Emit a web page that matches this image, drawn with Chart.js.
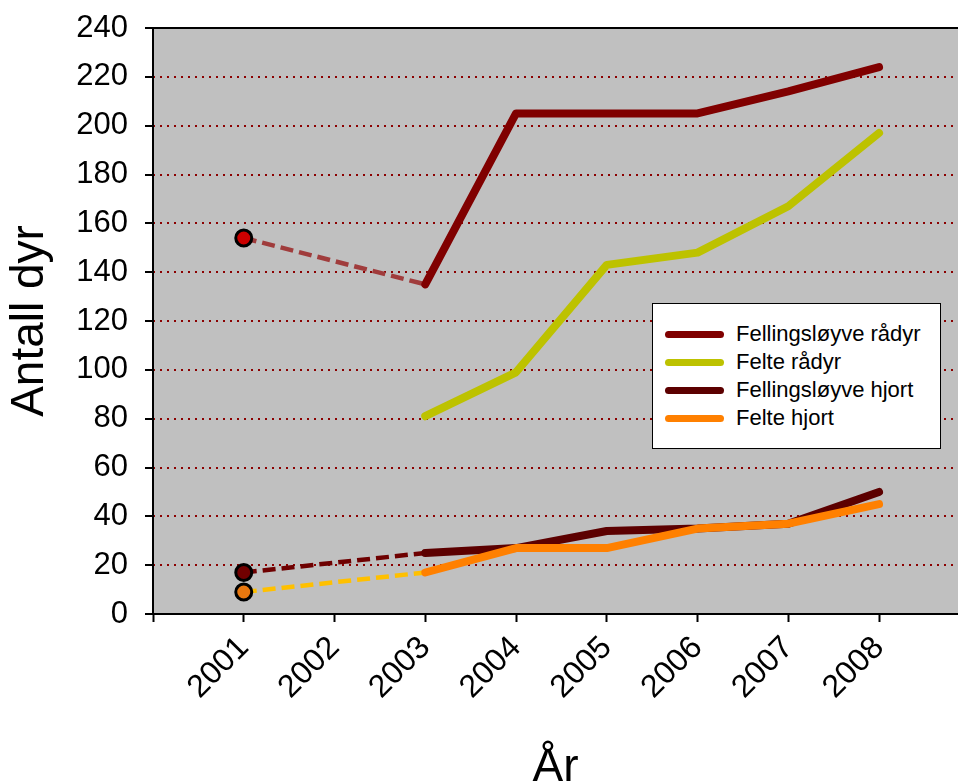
<!DOCTYPE html>
<html>
<head>
<meta charset="utf-8">
<script src="https://cdn.jsdelivr.net/npm/chart.js@4/dist/chart.umd.min.js"></script>
<style>
  html, body { margin: 0; padding: 0; background: #fff; overflow: hidden; }
  #wrap { position: relative; width: 958px; height: 810px; }
  #legend {
    position: absolute; left: 652px; top: 303px; width: 287px; height: 144px;
    background: #fff; border: 1px solid #000; font-family: "Liberation Sans", Arial, sans-serif;
    font-size: 22px; color: #000;
  }
  .row { position: absolute; left: 12px; height: 28px; display: flex; align-items: center; }
  .swatch { width: 59px; height: 7px; border-radius: 4px; margin-right: 12px; }
</style>
</head>
<body>
<div id="wrap">
  <canvas id="chart" width="958" height="810"></canvas>
  <div id="legend"></div>
</div>
<script>
const years = [2001, 2002, 2003, 2004, 2005, 2006, 2007, 2008];
const fellingRadyr = [154, null, 135, 205, 205, 205, 214, 224];
const felteRadyr = [null, null, 81, 99, 143, 148, 167, 197];
const fellingHjort = [17, null, 25, 27, 34, 35, 37, 50];
const felteHjort = [9, null, 17, 27, 27, 35, 37, 45];
const yTicks = [0, 20, 40, 60, 80, 100, 120, 140, 160, 180, 200, 220, 240];

const series = [
  { name: 'Felte hjort', values: felteHjort, color: '#ff8000', dash: '#ffc000', dot: '#e8780f' },
  { name: 'Fellingsløyve hjort', values: fellingHjort, color: '#5c0000', dash: '#6e0000', dot: '#720000' },
  { name: 'Felte rådyr', values: felteRadyr, color: '#bdc200' },
  { name: 'Fellingsløyve rådyr', values: fellingRadyr, color: '#800000', dash: '#a03c3c', dot: '#cc0000' }
];
const legendOrder = ['Fellingsløyve rådyr', 'Felte rådyr', 'Fellingsløyve hjort', 'Felte hjort'];

// solid part from 2003, dashed link from the 2001 value
function solidPoints(vals) {
  return years.map((x, i) => ({ x: x, y: vals[i] })).filter(p => p.x >= 2003 && p.y != null);
}
function dashPoints(vals) {
  return [{ x: years[0], y: vals[0] }, { x: years[2], y: vals[2] }];
}

const datasets = [];
series.forEach(s => {
  datasets.push({
    label: s.name,
    data: solidPoints(s.values),
    borderColor: s.color,
    borderWidth: 8,
    borderCapStyle: 'round',
    borderJoinStyle: 'round',
    pointRadius: 0,
    tension: 0
  });
});
series.forEach(s => {
  if (s.values[0] == null) return;
  datasets.push({
    label: s.name + ' 2001',
    data: dashPoints(s.values),
    borderColor: s.dash,
    borderWidth: 4.5,
    borderDash: [13, 6],
    pointRadius: [8, 0],
    pointBackgroundColor: s.dot,
    pointBorderColor: '#000',
    pointBorderWidth: 3,
    tension: 0
  });
});

const plotBg = {
  id: 'plotBg',
  beforeDraw(chart) {
    const { ctx, chartArea: a } = chart;
    ctx.save();
    ctx.fillStyle = '#c0c0c0';
    ctx.fillRect(a.left, a.top, a.right - a.left, a.bottom - a.top);
    ctx.restore();
  },
  beforeDatasetsDraw(chart) {
    const { ctx, chartArea: a } = chart;
    ctx.save();
    ctx.strokeStyle = '#000';
    ctx.lineWidth = 2;
    ctx.beginPath();
    ctx.moveTo(a.right, a.top);
    ctx.lineTo(a.left, a.top);
    ctx.lineTo(a.left, a.bottom);
    ctx.lineTo(a.right, a.bottom);
    ctx.stroke();
    ctx.restore();
  }
};

new Chart(document.getElementById('chart').getContext('2d'), {
  type: 'line',
  data: { datasets: datasets },
  options: {
    responsive: false,
    animation: false,
    layout: { autoPadding: false, padding: { top: 28, right: 0, left: 0, bottom: 0 } },
    plugins: { legend: { display: false }, tooltip: { enabled: false } },
    scales: {
      x: {
        type: 'linear',
        min: 2000,
        max: 2008.87,
        afterBuildTicks: s => { s.ticks = [2000].concat(years).map(v => ({ value: v })); },
        afterFit: s => { s.height = 196; s.paddingLeft = 0; s.paddingRight = 0; },
        grid: { drawOnChartArea: false, drawTicks: true, tickLength: 8, tickColor: '#000', tickWidth: 2 },
        border: { display: false },
        ticks: {
          color: '#000',
          font: { family: '"Liberation Sans", Arial, sans-serif', size: 32 },
          minRotation: 45, maxRotation: 45, padding: 7,
          callback: v => (v >= 2001 ? String(v) : '')
        },
        title: {
          display: true, text: 'År', color: '#000',
          font: { family: '"Liberation Sans", Arial, sans-serif', size: 46 },
          padding: { top: 0, bottom: 14 }
        }
      },
      y: {
        min: 0,
        max: 240,
        afterBuildTicks: s => { s.ticks = yTicks.map(v => ({ value: v })); },
        afterFit: s => { s.width = 153; s.paddingTop = 0; s.paddingBottom = 0; },
        grid: { color: '#8b0000', lineWidth: 2, drawTicks: true, tickLength: 8, tickColor: '#000', tickWidth: 2, tickBorderDash: [] },
        border: { display: false, dash: [2, 5] },
        ticks: {
          color: '#000',
          font: { family: '"Liberation Sans", Arial, sans-serif', size: 31 },
          padding: 17
        },
        title: {
          display: true, text: 'Antall dyr', color: '#000',
          font: { family: '"Liberation Sans", Arial, sans-serif', size: 46 },
          padding: { top: 3, bottom: 0 }
        }
      }
    }
  },
  plugins: [plotBg]
});

const legend = document.getElementById('legend');
legendOrder.forEach((name, i) => {
  const s = series.find(d => d.name === name);
  const row = document.createElement('div');
  row.className = 'row';
  row.style.top = (16 + i * 28) + 'px';
  const sw = document.createElement('div');
  sw.className = 'swatch';
  sw.style.background = s.color;
  const label = document.createElement('span');
  label.textContent = name;
  row.appendChild(sw);
  row.appendChild(label);
  legend.appendChild(row);
});
</script>
</body>
</html>
